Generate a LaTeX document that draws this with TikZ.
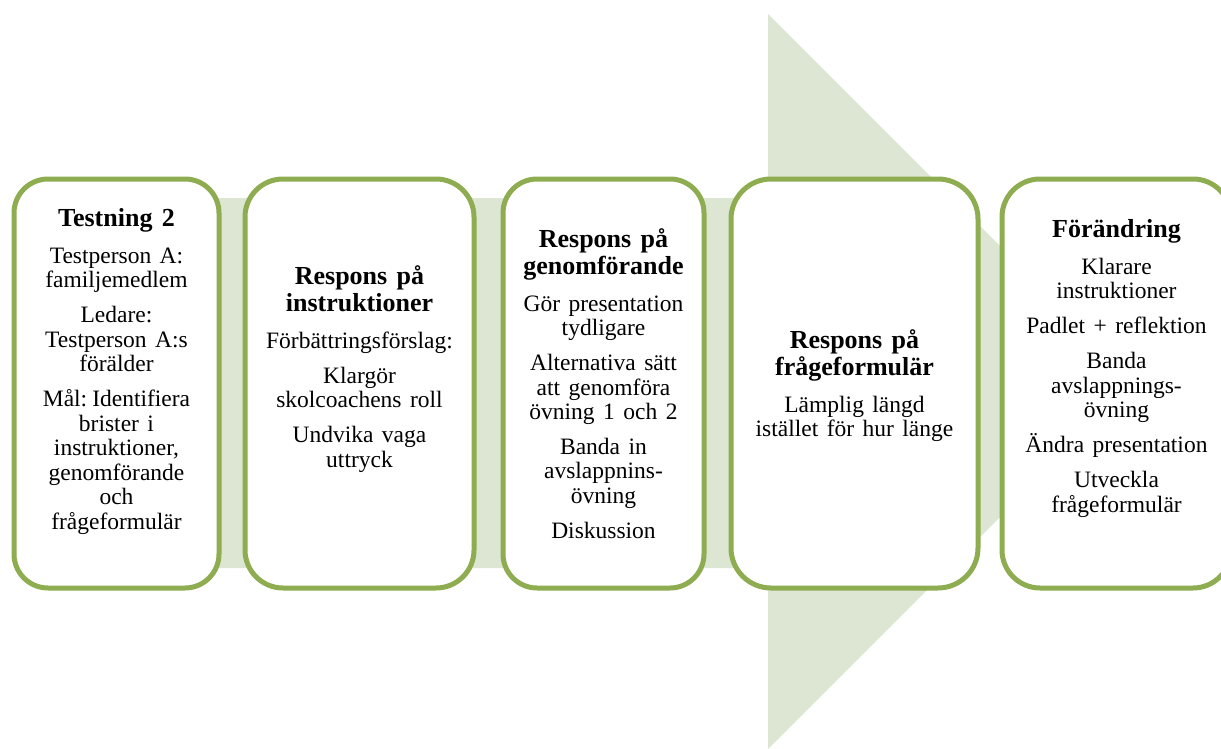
\documentclass[tikz,border=0pt]{standalone}
\usepackage{fontspec}
\setmainfont{Liberation Serif}
\newfontfamily\tnr{Liberation Serif}
\definecolor{boxgreen}{HTML}{8EAC50}
\definecolor{arrowfill}{HTML}{DCE6D2}
\newcommand{\ttl}[1]{{\tnr\fontsize{26}{27}\selectfont\bfseries\spaceskip=0.36em\relax #1\par}}
\newcommand{\bdy}[1]{{\tnr\fontsize{23.5}{24.5}\selectfont\spaceskip=0.36em\relax #1\par}}
\newcommand{\tgap}{\vspace{12.5pt}}
\newcommand{\pgap}{\vspace{10.5pt}}
\tikzset{
  stagebox/.style={draw=boxgreen, line width=5pt, fill=white, inner sep=0pt},
  stagetext/.style={anchor=base, text width=240pt, align=center, inner sep=0pt,
    execute at begin node={\lineskiplimit=-100pt\relax\parskip=0pt\relax\parindent=0pt\relax}}
}
\begin{document}
\begin{tikzpicture}[x=1pt,y=-1pt]
\useasboundingbox (0,0) rectangle (1221,749);
% background arrow
\fill[arrowfill] (60,198) -- (768,198) -- (768,14) -- (1135.5,381.5) -- (768,749) -- (768,568) -- (60,568) -- cycle;
% boxes
\node[stagebox, rounded corners=34pt, minimum width=205pt, minimum height=409pt] (b1) at (116.5,383.5) {};
\node[stagebox, rounded corners=38pt, minimum width=229pt, minimum height=409pt] (b2) at (359.5,383.5) {};
\node[stagebox, rounded corners=34pt, minimum width=201pt, minimum height=409pt] (b3) at (603.5,383.5) {};
\node[stagebox, rounded corners=40pt, minimum width=247pt, minimum height=409pt] (b4) at (854.5,383.5) {};
\node[stagebox, rounded corners=38pt, minimum width=229pt, minimum height=409pt] (b5) at (1116.5,383.5) {};
% texts
\node[stagetext] (t1) at (116.5,226) {\ttl{Testning 2}\tgap
  \bdy{Testperson A:\\familjemedlem}\pgap
  \bdy{Ledare:\\Testperson A:s\\förälder}\pgap
  \bdy{Mål: Identifiera\\brister i\\instruktioner,\\genomförande\\och\\frågeformulär}};
\node[stagetext] (t2) at (359.5,284) {\ttl{Respons på\\instruktioner}\tgap
  \bdy{Förbättringsförslag:}\pgap
  \bdy{Klargör\\skolcoachens roll}\pgap
  \bdy{Undvika vaga\\uttryck}};
\node[stagetext] (t3) at (603.5,247) {\ttl{Respons på\\genomförande}\tgap
  \bdy{Gör presentation\\tydligare}\pgap
  \bdy{Alternativa sätt\\att genomföra\\övning 1 och 2}\pgap
  \bdy{Banda in\\avslappnins-\\övning}\pgap
  \bdy{Diskussion}};
\node[stagetext] (t4) at (854.5,348) {\ttl{Respons på\\frågeformulär}\tgap
  \bdy{Lämplig längd\\istället för hur länge}};
\node[stagetext] (t5) at (1116.5,237) {\ttl{Förändring}\tgap
  \bdy{Klarare\\instruktioner}\pgap
  \bdy{Padlet + reflektion}\pgap
  \bdy{Banda\\avslappnings-\\övning}\pgap
  \bdy{Ändra presentation}\pgap
  \bdy{Utveckla\\frågeformulär}};
\end{tikzpicture}
\end{document}
